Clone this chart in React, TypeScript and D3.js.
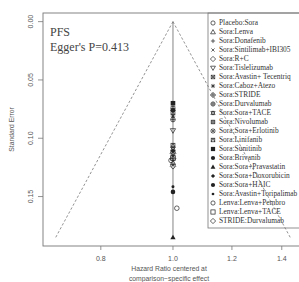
import React from 'react';
import * as d3 from 'd3';

// comparisons shown in the legend, with their R pch symbol
const comparisons = [
  'Placebo:Sora', 'Sora:Lenva', 'Sora:Donafenib', 'Sora:Sintilimab+IBI305', 'Sora:R+C',
  'Sora:Tislelizumab', 'Sora:Avastin+ Tecentriq', 'Sora:Caboz+Atezo', 'Sora:STRIDE',
  'Sora:Durvalumab', 'Sora:Sora+TACE', 'Sora:Nivolumab', 'Sora:Sora+Erlotinib',
  'Sora:Linifanib', 'Sora:Sunitinib', 'Sora:Brivanib', 'Sora:Sora+Pravastatin',
  'Sora:Sora+Doxorubicin', 'Sora:Sora+HAIC', 'Sora:Avastin+Toripalimab',
  'Lenva:Lenva+Pembro', 'Lenva:Lenva+TACE', 'STRIDE:Durvalumab',
];
const pch = [1, 2, 3, 4, 5, 6, 7, 8, 9, 10, 11, 12, 13, 14, 15, 16, 17, 18, 19, 20, 21, 22, 23];

// centered hazard ratio and standard error per study
const hr = [0.994, 1, 1, 1, 1, 1, 1, 1, 1, 1, 1, 1, 1, 1, 1, 1, 1, 1, 1, 1, 1.012, 1, 1];
const se = [0.119, 0.121, 0.115, 0.123, 0.124, 0.0935, 0.078, 0.081, 0.1175, 0.084, 0.109,
  0.0746, 0.112, 0.106, 0.070, 0.076, 0.185, 0.111, 0.146, 0.1415, 0.160, 0.117, 0.113];

const xTicks = [0.8, 1.0, 1.2, 1.4];
const yTicks = [0, 0.05, 0.1, 0.15];

const W = 299, H = 282;
const left = 43, right = 303, top = 13, bottom = 246;
const serif = '"Liberation Serif", "DejaVu Serif", serif';
const sans = '"Liberation Sans", Arial, sans-serif';
const ink = '#222';

function Symbol({ x, y, p, r = 2.4 }: { x: number; y: number; p: number; r?: number }) {
  const s = { stroke: ink, strokeWidth: 0.7, fill: 'none' };
  const f = { fill: ink, stroke: 'none' };
  const tri = (up: boolean, k = 1.15) => {
    const a = r * k;
    return up
      ? `M${x},${y - a}L${x + a},${y + a * 0.75}L${x - a},${y + a * 0.75}Z`
      : `M${x},${y + a}L${x + a},${y - a * 0.75}L${x - a},${y - a * 0.75}Z`;
  };
  const dia = `M${x},${y - r * 1.25}L${x + r * 1.25},${y}L${x},${y + r * 1.25}L${x - r * 1.25},${y}Z`;
  const plus = `M${x - r},${y}L${x + r},${y}M${x},${y - r}L${x},${y + r}`;
  const cross = `M${x - r * 0.75},${y - r * 0.75}L${x + r * 0.75},${y + r * 0.75}M${x - r * 0.75},${y + r * 0.75}L${x + r * 0.75},${y - r * 0.75}`;
  const sq = <rect x={x - r * 0.85} y={y - r * 0.85} width={r * 1.7} height={r * 1.7} {...s} />;
  switch (p) {
    case 1: case 21: return <circle cx={x} cy={y} r={r} {...s} />;
    case 2: return <path d={tri(true)} {...s} />;
    case 3: return <path d={plus} {...s} />;
    case 4: return <path d={cross} {...s} />;
    case 5: case 23: return <path d={dia} {...s} />;
    case 6: return <path d={tri(false)} {...s} />;
    case 7: return <g>{sq}<path d={cross} {...s} /></g>;
    case 8: return <g><path d={plus} {...s} /><path d={cross} {...s} /></g>;
    case 9: return <g><path d={dia} {...s} /><path d={plus} {...s} /></g>;
    case 10: return <g><circle cx={x} cy={y} r={r} {...s} /><path d={plus} {...s} /></g>;
    case 11: return <g><path d={tri(true, 1)} {...s} /><path d={tri(false, 1)} {...s} /></g>;
    case 12: return <g>{sq}<path d={plus} {...s} /></g>;
    case 13: return <g><circle cx={x} cy={y} r={r} {...s} /><path d={cross} {...s} /></g>;
    case 14: return <g>{sq}<path d={`M${x - r * 0.85},${y + r * 0.85}L${x},${y - r * 0.85}L${x + r * 0.85},${y + r * 0.85}`} {...s} /></g>;
    case 15: return <rect x={x - r} y={y - r} width={r * 2} height={r * 2} {...f} />;
    case 16: case 19: return <circle cx={x} cy={y} r={r} {...f} />;
    case 17: return <path d={tri(true)} {...f} />;
    case 18: return <path d={`M${x},${y - r}L${x + r},${y}L${x},${y + r}L${x - r},${y}Z`} {...f} />;
    case 20: return <circle cx={x} cy={y} r={r * 0.65} {...f} />;
    case 22: return <rect x={x - r} y={y - r} width={r * 2} height={r * 2} {...s} />;
    default: return null;
  }
}

export default function App() {
  const x = d3.scaleLog().domain([0.669, 1.495]).range([left, right]);
  const y = d3.scaleLinear().domain([-0.0074, 0.1924]).range([top, bottom]);
  const seMax = d3.max(se) as number;
  const fmtY = d3.format('.2f');
  const fmtX = d3.format('.1f');
  const grey = '#777';

  const legX = 208, legY = 13, legStep = 9.0;
  const legH = 215;

  return (
    <svg width={W} height={H} style={{ position: 'absolute', left: 0, top: 0, background: '#fff' }}>
      {/* funnel */}
      <line x1={x(1)} x2={x(1)} y1={y(0)} y2={y(seMax)} stroke={grey} strokeWidth={0.9} />
      {/* legend */}
      <rect x={legX} y={legY} width={120} height={legH} fill="#fff" stroke={grey} strokeWidth={0.8} />
      {comparisons.map((c, i) => (
        <g key={c}>
          <Symbol x={legX + 5} y={legY + 10 + i * legStep} p={pch[i]} r={2.1} />
          <text x={legX + 11} y={legY + 10 + i * legStep} dy="0.33em" fontFamily={serif} fontSize={7.4} fill="#333">{c}</text>
        </g>
      ))}
      {[-1, 1].map(k => (
        <line key={k} x1={x(1)} y1={y(0)} x2={x(Math.exp(k * 1.96 * seMax))} y2={y(seMax)}
          stroke={grey} strokeWidth={0.8} strokeDasharray="2.5,2" />
      ))}
      {/* points */}
      {se.map((s, i) => (
        <Symbol key={i} x={x(hr[i])} y={y(s)} p={pch[i]} r={2.3} />
      ))}
      {/* box */}
      <rect x={left} y={top} width={right - left} height={bottom - top} fill="none" stroke={grey} strokeWidth={0.9} />
      {/* y axis */}
      {yTicks.map(t => (
        <g key={t}>
          <line x1={left - 5} x2={left} y1={y(t)} y2={y(t)} stroke={grey} strokeWidth={0.8} />
          <text transform={`translate(${left - 10},${y(t)}) rotate(-90)`} textAnchor="middle"
            fontFamily={sans} fontSize={7} fill="#555">{fmtY(t)}</text>
        </g>
      ))}
      <text transform={`translate(14,${(top + bottom) / 2}) rotate(-90)`} textAnchor="middle"
        fontFamily={sans} fontSize={6.8} fill="#555">Standard Error</text>
      {/* x axis */}
      {xTicks.map(t => (
        <g key={t}>
          <line x1={x(t)} x2={x(t)} y1={bottom} y2={bottom + 4} stroke={grey} strokeWidth={0.8} />
          <text x={x(t)} y={bottom + 15} textAnchor="middle" fontFamily={sans} fontSize={7} fill="#555">{fmtX(t)}</text>
        </g>
      ))}
      <text x={169} y={271} textAnchor="middle" fontFamily={sans} fontSize={6.8} fill="#555">Hazard Ratio centered at</text>
      <text x={169} y={281} textAnchor="middle" fontFamily={sans} fontSize={6.8} fill="#555">comparison−specific effect</text>
      {/* annotation */}
      <text x={50} y={36} fontFamily={serif} fontSize={12} fill="#444">PFS</text>
      <text x={50} y={51} fontFamily={serif} fontSize={12} fill="#444">Egger's P=0.413</text>
    </svg>
  );
}
